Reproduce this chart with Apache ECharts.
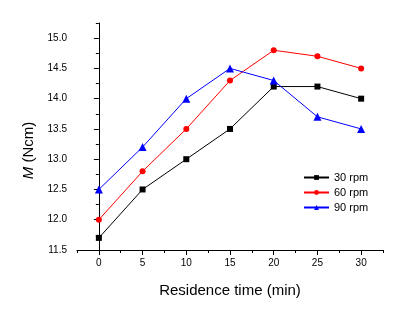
<!DOCTYPE html>
<html>
<head>
<meta charset="utf-8">
<script src="https://cdn.jsdelivr.net/npm/echarts@6/dist/echarts.min.js"></script>
<style>
  html, body { margin: 0; padding: 0; background: #fff; }
  #chart { width: 405px; height: 324px; }
</style>
</head>
<body>
<div id="chart"></div>
<script>
// residence time (min)
const times = [0, 5, 10, 15, 20, 25, 30];
const rpm30 = [11.7, 12.5, 13.0, 13.5, 14.2, 14.2, 14.0];
const rpm60 = [12.0, 12.8, 13.5, 14.3, 14.8, 14.7, 14.5];
const rpm90 = [12.5, 13.2, 14.0, 14.5, 14.3, 13.7, 13.5];
const xMajorTicks = [0, 5, 10, 15, 20, 25, 30];
const xMinorTicks = [-2.5, 2.5, 7.5, 12.5, 17.5, 22.5, 27.5, 32.5];
const yMajorTicks = [11.5, 12.0, 12.5, 13.0, 13.5, 14.0, 14.5, 15.0];
const yMinorTicks = [11.75, 12.25, 12.75, 13.25, 13.75, 14.25, 14.75, 15.25];

const font = "Liberation Sans, Arial, sans-serif";

function pairs(ys) {
  return times.map((t, i) => [t, ys[i]]);
}

const chart = echarts.init(document.getElementById("chart"));

const xBase = {
  type: "value",
  min: -2.5,
  max: 32.5,
  gridIndex: 0,
  position: "bottom",
  splitLine: { show: false },
};
const yBase = {
  type: "value",
  min: 11.5,
  max: 15.25,
  gridIndex: 0,
  position: "left",
  splitLine: { show: false },
};

chart.setOption({
  animation: false,
  grid: { left: 77, right: 22, top: 23, bottom: 74 },
  legend: {
    orient: "vertical",
    left: 298,
    top: 167,
    itemWidth: 25,
    itemHeight: 6,
    itemGap: 4,
    textStyle: { fontFamily: font, fontSize: 11, color: "#000" },
    data: ["30 rpm", "60 rpm", "90 rpm"],
  },
  xAxis: [
    Object.assign({}, xBase, {
      name: "Residence time (min)",
      nameLocation: "middle",
      nameGap: 33,
      nameTextStyle: { fontFamily: font, fontSize: 15, color: "#000" },
      axisLine: { show: true, lineStyle: { color: "#000", width: 1 } },
      axisTick: {
        show: true,
        length: 5,
        customValues: xMajorTicks,
        lineStyle: { color: "#000" },
      },
      axisLabel: {
        customValues: xMajorTicks,
        margin: 8,
        fontFamily: font,
        fontSize: 10,
        color: "#000",
      },
    }),
    Object.assign({}, xBase, {
      axisLine: { show: false },
      axisTick: {
        show: true,
        length: 3,
        customValues: xMinorTicks,
        lineStyle: { color: "#000" },
      },
      axisLabel: { show: false },
    }),
  ],
  yAxis: [
    Object.assign({}, yBase, {
      name: "{i|M} (Ncm)",
      nameLocation: "middle",
      nameGap: 36,
      nameTextStyle: {
        fontFamily: font,
        fontSize: 15,
        color: "#000",
        padding: [0, 0, 0, -28],
        rich: {
          i: { fontFamily: font, fontSize: 15, fontStyle: "italic", color: "#000" },
        },
      },
      axisLine: { show: true, lineStyle: { color: "#000", width: 1 } },
      axisTick: {
        show: true,
        length: 5,
        customValues: yMajorTicks,
        lineStyle: { color: "#000" },
      },
      axisLabel: {
        customValues: yMajorTicks,
        margin: 10,
        fontFamily: font,
        fontSize: 10,
        color: "#000",
        formatter: (v) => v.toFixed(1),
      },
    }),
    Object.assign({}, yBase, {
      axisLine: { show: false },
      axisTick: {
        show: true,
        length: 3,
        customValues: yMinorTicks,
        lineStyle: { color: "#000" },
      },
      axisLabel: { show: false },
    }),
  ],
  series: [
    {
      name: "30 rpm",
      type: "line",
      data: pairs(rpm30),
      symbol: "rect",
      symbolSize: 6,
      color: "#000000",
      lineStyle: { width: 1 },
    },
    {
      name: "60 rpm",
      type: "line",
      data: pairs(rpm60),
      symbol: "circle",
      symbolSize: 6,
      color: "#ff0000",
      lineStyle: { width: 1 },
    },
    {
      name: "90 rpm",
      type: "line",
      data: pairs(rpm90),
      symbol: "triangle",
      symbolSize: 8,
      color: "#0000ff",
      lineStyle: { width: 1 },
    },
  ],
});
</script>
</body>
</html>
